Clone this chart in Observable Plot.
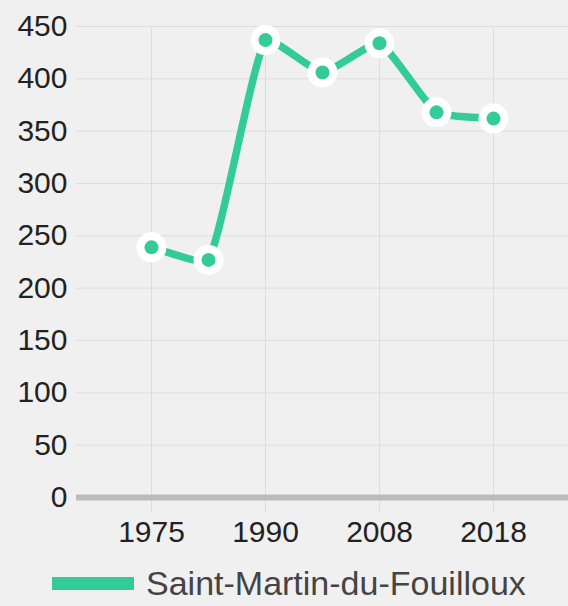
<!DOCTYPE html>
<html>
<head>
<meta charset="utf-8">
<script src="https://cdn.jsdelivr.net/npm/d3@7"></script>
<script src="https://cdn.jsdelivr.net/npm/@observablehq/plot@0.6"></script>
<style>
  html, body { margin: 0; padding: 0; background: #f0f0f0; }
  #legend { font-family: "Liberation Sans", Arial, sans-serif; font-size: 34px; color: #444;
            display: flex; align-items: center; padding-left: 52px; margin-top: 5px; line-height: 36px; }
  #legend .sw { width: 82px; height: 13px; background: #33cc99; margin-right: 12px; }
</style>
</head>
<body>
<div id="chart"></div>
<div id="legend"><span class="sw"></span><span>Saint-Martin-du-Fouilloux</span></div>
<script>
const years = ["1975", "1982", "1990", "1999", "2008", "2013", "2018"];
const population = [239, 227, 437, 406, 434, 368, 362];
const xTickLabels = ["1975", "1990", "2008", "2018"];
const yTicks = [0, 50, 100, 150, 200, 250, 300, 350, 400, 450];
const seriesName = "Saint-Martin-du-Fouilloux";
const color = "#33cc99";

const data = years.map((y, i) => ({year: y, value: population[i]}));

// Chart.js-style spline with a small tension, as a d3 curve factory
function chartjsCurve(context) {
  const t = 0.15;
  let pts = [];
  return {
    areaStart() {}, areaEnd() {},
    lineStart() { pts = []; },
    point(x, y) { pts.push([+x, +y]); },
    lineEnd() {
      const n = pts.length;
      if (!n) return;
      const cp = pts.map((p, i) => {
        const a = pts[Math.max(0, i - 1)], c = pts[Math.min(n - 1, i + 1)];
        const d01 = Math.hypot(p[0] - a[0], p[1] - a[1]);
        const d12 = Math.hypot(c[0] - p[0], c[1] - p[1]);
        let s01 = d01 / (d01 + d12), s12 = d12 / (d01 + d12);
        if (!isFinite(s01)) s01 = 0; if (!isFinite(s12)) s12 = 0;
        const fa = t * s01, fb = t * s12;
        return {
          prev: [p[0] - fa * (c[0] - a[0]), p[1] - fa * (c[1] - a[1])],
          next: [p[0] + fb * (c[0] - a[0]), p[1] + fb * (c[1] - a[1])]
        };
      });
      context.moveTo(pts[0][0], pts[0][1]);
      for (let i = 1; i < n; i++) {
        const c1 = cp[i - 1].next, c2 = cp[i].prev;
        context.bezierCurveTo(c1[0], c1[1], c2[0], c2[1], pts[i][0], pts[i][1]);
      }
    }
  };
}

const chart = Plot.plot({
  width: 568,
  height: 560,
  marginTop: 26,
  marginBottom: 63,
  marginLeft: 76,
  marginRight: 0,
  style: {background: "#f0f0f0", fontFamily: "Liberation Sans, Arial, sans-serif", fontSize: "30px", color: "#222"},
  x: {type: "point", domain: years, padding: 1.3},
  y: {domain: [0, 450]},
  marks: [
    Plot.gridY(yTicks, {stroke: "#dddddd", strokeOpacity: 1}),
    Plot.gridX(xTickLabels, {stroke: "#dddddd", strokeOpacity: 1}),
    Plot.axisX(xTickLabels, {tickSize: 16, stroke: "#dddddd", tickPadding: 7, fontSize: 30, fill: "#222", label: null}),
    Plot.axisY(yTicks, {tickSize: 0, tickPadding: 9, fontSize: 30, fill: "#222", label: null}),
    Plot.ruleY([0], {stroke: "#bbbbbb", strokeWidth: 6}),
    Plot.line(data, {x: "year", y: "value", stroke: color, strokeWidth: 7.5, curve: chartjsCurve}),
    Plot.dot(data, {x: "year", y: "value", r: 15, fill: "white"}),
    Plot.dot(data, {x: "year", y: "value", r: 7, fill: color})
  ]
});
document.getElementById("chart").appendChild(chart);
</script>
</body>
</html>
